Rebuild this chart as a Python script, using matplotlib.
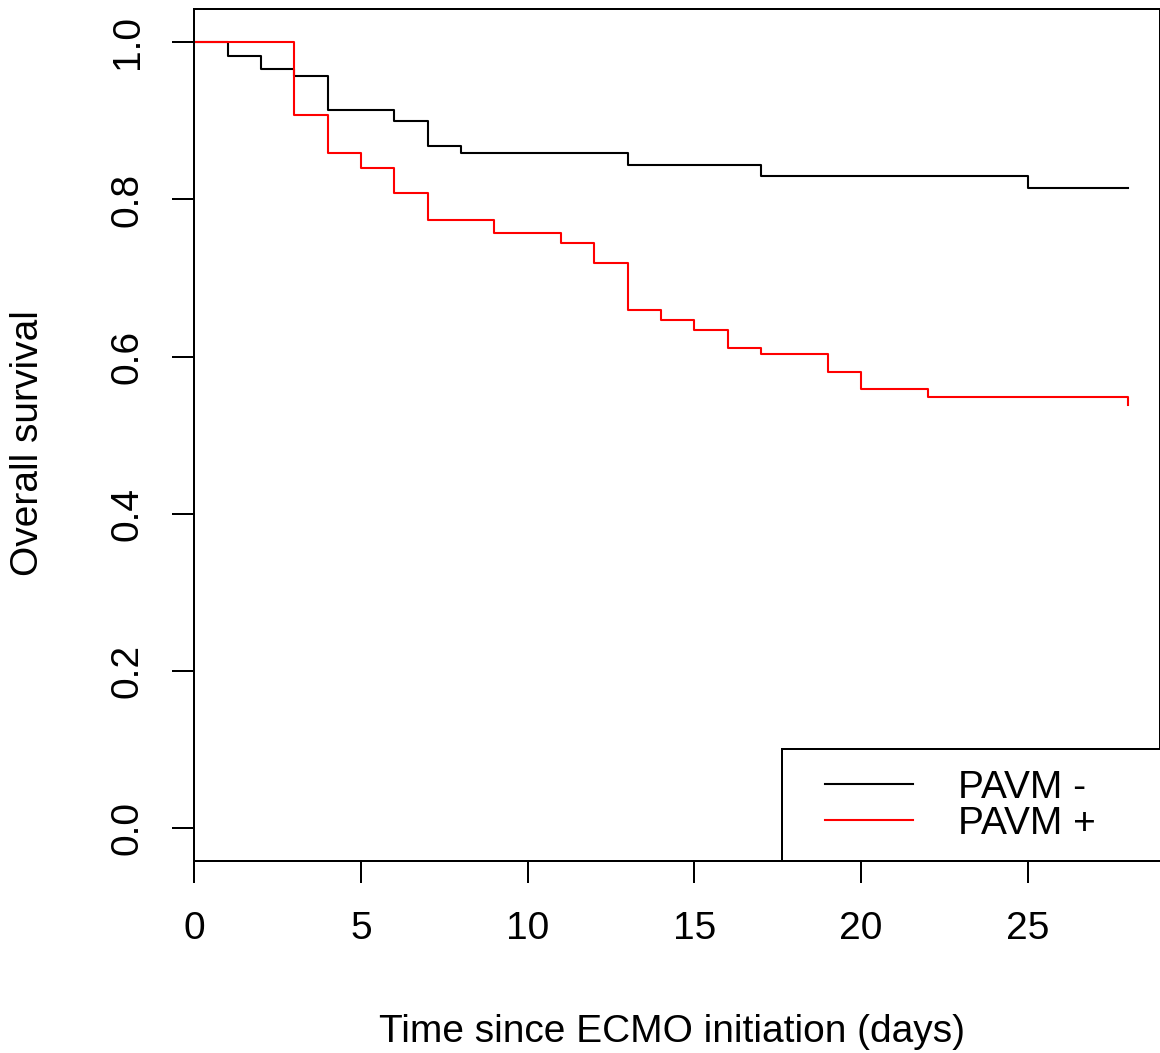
import matplotlib
matplotlib.use("Agg")
import matplotlib.pyplot as plt
from matplotlib.patches import Rectangle

# ---- data ----
neg_times = [0, 1, 2, 3, 4, 6, 7, 8, 13, 17, 25, 28]
neg_surv = [1.0, 0.9826, 0.9665, 0.957, 0.9139, 0.900, 0.868, 0.859, 0.8435, 0.8305, 0.8142, 0.8142]

pos_times = [0, 3, 4, 5, 6, 7, 9, 11, 12, 13, 14, 15, 16, 17, 19, 20, 22, 28]
pos_surv = [1.0, 0.907, 0.8588, 0.8405, 0.8088, 0.774, 0.758, 0.745, 0.7197, 0.6595,
            0.6467, 0.634, 0.6116, 0.603, 0.5806, 0.5585, 0.549, 0.539]

series_labels = ["PAVM -", "PAVM +"]
x_ticks = [0, 5, 10, 15, 20, 25]
y_ticks = [0.0, 0.2, 0.4, 0.6, 0.8, 1.0]
y_tick_labels = ["0.0", "0.2", "0.4", "0.6", "0.8", "1.0"]
x_label = "Time since ECMO initiation (days)"
y_label = "Overall survival"

plt.rcParams['font.family'] = ['Liberation Sans', 'DejaVu Sans']
FS = 28

fig = plt.figure(figsize=(11.6, 10.53), dpi=100)
ax = fig.add_axes([0.1675, 0.1823, 0.8325, 0.8089])

l1, = ax.step(neg_times, neg_surv, where="post", color="black", lw=1.5)
l2, = ax.step(pos_times, pos_surv, where="post", color="#ff0000", lw=1.5)

ax.set_xlim(0, 28.97)
ax.set_ylim(-0.0416, 1.042)
ax.set_xticks(x_ticks)
ax.set_yticks(y_ticks)
ax.set_yticklabels(y_tick_labels, rotation=90, va="center")
ax.tick_params(axis="both", labelsize=FS, length=15.8, width=1.44, color="black")
ax.tick_params(axis="x", pad=20)
ax.tick_params(axis="y", pad=19)
for s in ax.spines.values():
    s.set_linewidth(1.44)

fig.text(0.579, 0.0105, x_label, ha="center", va="baseline", fontsize=FS)
fig.text(28 / 1160, 1 - 443 / 1053, y_label, ha="center", va="center",
         rotation=90, fontsize=FS)

# legend frame (bottom-right, extends past the right edge)
ax.add_patch(Rectangle((0.6086, 0.0), 0.45, 0.1315, transform=ax.transAxes,
                       fill=True, facecolor="white", edgecolor="black",
                       lw=1.44, clip_on=False, zorder=5))
leg = ax.legend([l1, l2], series_labels, loc="center left",
                bbox_to_anchor=(0.6531, 0.0646), borderaxespad=0, borderpad=0,
                frameon=False, fontsize=FS, handlelength=2.26,
                handletextpad=1.16, labelspacing=0.0)
leg.set_zorder(6)

fig.savefig("out.png", dpi=100)
